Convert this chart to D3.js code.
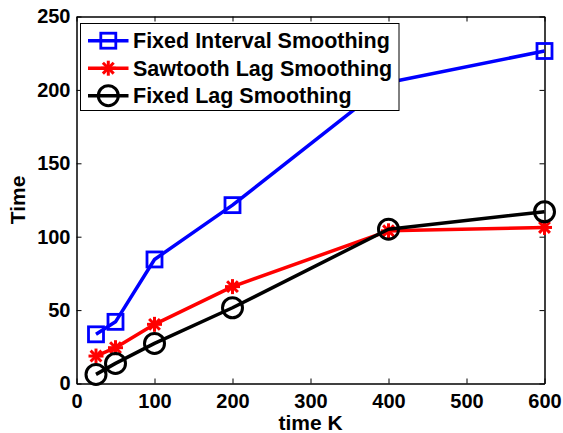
<!DOCTYPE html>
<html>
<head>
<meta charset="utf-8">
<script src="https://cdn.jsdelivr.net/npm/d3@7"></script>
<style>
  body { margin: 0; background: #fff; }
  text { font-family: "Liberation Sans", Arial, Helvetica, sans-serif; font-weight: bold; }
</style>
</head>
<body>
<svg width="563" height="433"></svg>
<script>
// data
var timeK = [25, 50, 100, 200, 400, 600];
var fixedInterval = [33.5, 42, 84.5, 121.5, 205, 226.5];
var sawtoothLag = [18.7, 24.4, 40.3, 66, 104, 106.3];
var fixedLag = [6.2, 13.7, 27.3, 51.6, 105.1, 117];
var xTicks = [0, 100, 200, 300, 400, 500, 600];
var yTicks = [0, 50, 100, 150, 200, 250];

var series = [
  {name: 'Fixed Interval Smoothing', values: fixedInterval, color: '#0000ff', marker: 'square'},
  {name: 'Sawtooth Lag Smoothing', values: sawtoothLag, color: '#ff0000', marker: 'star'},
  {name: 'Fixed Lag Smoothing', values: fixedLag, color: '#000000', marker: 'circle'}
];

const svg = d3.select('svg');
// plot box (window.top is taken, so own names)
var pLeft = 76.5, pRight = 544.5, pTop = 16.5, pBottom = 383.5;

const x = d3.scaleLinear().domain([0, 600]).range([pLeft, pRight]);
const y = d3.scaleLinear().domain([0, 250]).range([pBottom, pTop]);

// axes, ticks pointing inwards, box on
const tickLen = 5;
const axB = svg.append('g').attr('transform', 'translate(0,' + pBottom + ')')
  .call(d3.axisBottom(x).tickValues(xTicks).tickSizeInner(-tickLen).tickSizeOuter(0).tickPadding(10));
const axT = svg.append('g').attr('transform', 'translate(0,' + pTop + ')')
  .call(d3.axisTop(x).tickValues(xTicks).tickSizeInner(-tickLen).tickSizeOuter(0).tickFormat(''));
const axL = svg.append('g').attr('transform', 'translate(' + pLeft + ',0)')
  .call(d3.axisLeft(y).tickValues(yTicks).tickSizeInner(-tickLen).tickSizeOuter(0).tickPadding(6));
const axR = svg.append('g').attr('transform', 'translate(' + pRight + ',0)')
  .call(d3.axisRight(y).tickValues(yTicks).tickSizeInner(-tickLen).tickSizeOuter(0).tickFormat(''));

[axB, axT, axL, axR].forEach(function(g) {
  g.select('.domain').attr('stroke', '#000').attr('stroke-width', 1.5);
  g.selectAll('.tick line').attr('stroke', '#000').attr('stroke-width', 1);
  g.selectAll('.tick text').attr('fill', '#000').style('font-size', '20px');
});
axB.selectAll('.tick text').attr('dy', '0.71em');

// axis labels
svg.append('text')
  .attr('x', (pLeft + pRight) / 2).attr('y', 430)
  .attr('text-anchor', 'middle')
  .style('font-size', '21px')
  .text('time K');
svg.append('text')
  .attr('transform', 'translate(25,' + (pTop + pBottom) / 2 + ') rotate(-90)')
  .attr('text-anchor', 'middle')
  .style('font-size', '21px')
  .text('Time');

// markers
function drawMarker(g, type, cx, cy, color) {
  if (type == 'square') {
    g.append('rect')
      .attr('x', cx - 7.5).attr('y', cy - 7.5)
      .attr('width', 15).attr('height', 15)
      .attr('fill', 'none').attr('stroke', color).attr('stroke-width', 2.8);
  } else if (type == 'circle') {
    g.append('circle')
      .attr('cx', cx).attr('cy', cy).attr('r', 10)
      .attr('fill', 'none').attr('stroke', color).attr('stroke-width', 3);
  } else {
    var r = 7.5, d = r * 0.72;
    var segs = [[-r, 0, r, 0], [0, -r, 0, r], [-d, -d, d, d], [-d, d, d, -d]];
    segs.forEach(function(s) {
      g.append('line')
        .attr('x1', cx + s[0]).attr('y1', cy + s[1])
        .attr('x2', cx + s[2]).attr('y2', cy + s[3])
        .attr('stroke', color).attr('stroke-width', 3);
    });
  }
}

const line = d3.line().x(d => x(d[0])).y(d => y(d[1]));

series.forEach(function(s) {
  var pts = timeK.map((t, i) => [t, s.values[i]]);
  var g = svg.append('g');
  g.append('path')
    .attr('d', line(pts))
    .attr('fill', 'none')
    .attr('stroke', s.color)
    .attr('stroke-width', 3.5)
    .attr('stroke-linejoin', 'round');
  pts.forEach(function(p) {
    drawMarker(g, s.marker, x(p[0]), y(p[1]), s.color);
  });
});

// legend
const lg = svg.append('g');
lg.append('rect')
  .attr('x', 80.5).attr('y', 23.5)
  .attr('width', 318.5).attr('height', 87)
  .attr('fill', '#fff').attr('stroke', '#000').attr('stroke-width', 1);
series.forEach(function(s, i) {
  var cy = 40.7 + i * 27.5;
  lg.append('line')
    .attr('x1', 88).attr('x2', 128.5).attr('y1', cy).attr('y2', cy)
    .attr('stroke', s.color).attr('stroke-width', 3.5);
  drawMarker(lg, s.marker, 108.3, cy, s.color);
  lg.append('text')
    .attr('x', 133).attr('y', cy)
    .attr('dy', '0.36em')
    .style('font-size', '21.5px')
    .text(s.name);
});
</script>
</body>
</html>
